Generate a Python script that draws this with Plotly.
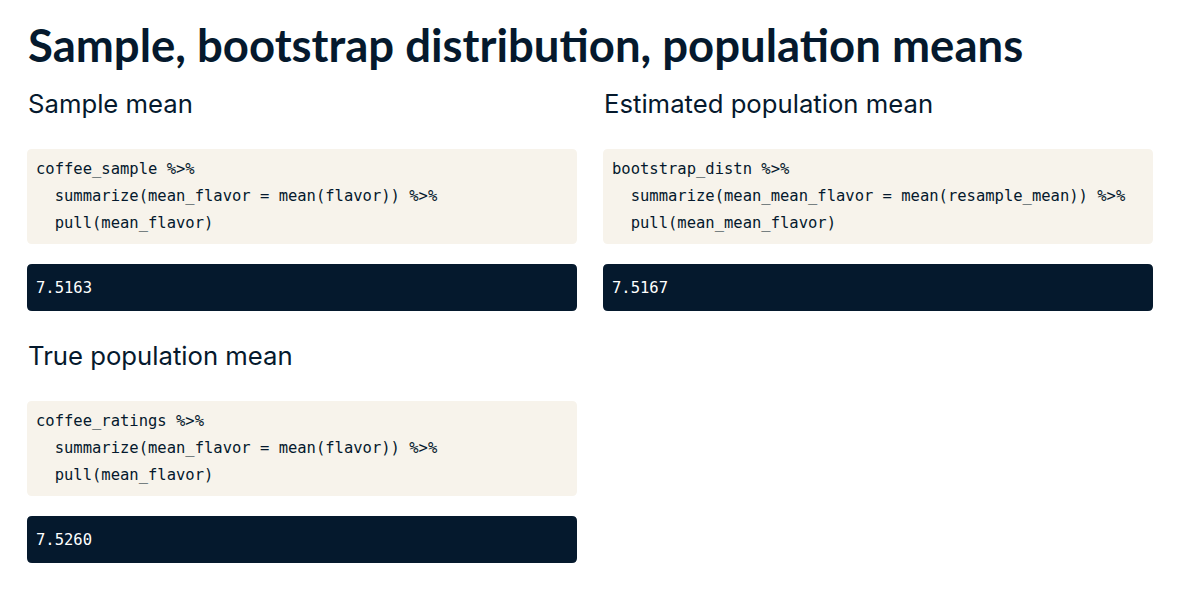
import plotly.graph_objects as go

W, H = 1186, 610
OFF = 8  # page body margin

title = "Sample, bootstrap distribution, population means"
panel_headings = ["Sample mean", "Estimated population mean", "True population mean"]
panel_code = [
    ["coffee_sample %>%",
     "  summarize(mean_flavor = mean(flavor)) %>%",
     "  pull(mean_flavor)"],
    ["bootstrap_distn %>%",
     "  summarize(mean_mean_flavor = mean(resample_mean)) %>%",
     "  pull(mean_mean_flavor)"],
    ["coffee_ratings %>%",
     "  summarize(mean_flavor = mean(flavor)) %>%",
     "  pull(mean_flavor)"],
]
panel_outputs = ["7.5163", "7.5167", "7.5260"]

# layout (pixels)
panel_x = [27, 603, 27]
panel_top = [0, 0, 252]
box_w = 550
NAVY = "#05192D"
CREAM = "#F7F3EB"
SANS = "Inter, Lato, sans-serif"
TITLE_FONT = "Lato, Inter, sans-serif"
MONO = "DejaVu Sans Mono, Liberation Mono, monospace"


def rounded(x0, y0, x1, y1, r=5):
    return (f"M{x0+r},{y0} L{x1-r},{y0} Q{x1},{y0} {x1},{y0+r} "
            f"L{x1},{y1-r} Q{x1},{y1} {x1-r},{y1} L{x0+r},{y1} "
            f"Q{x0},{y1} {x0},{y1-r} L{x0},{y0+r} Q{x0},{y0} {x0+r},{y0} Z")


fig = go.Figure()
fig.add_trace(go.Scatter(x=[0, W], y=[0, H], mode="markers",
                         marker=dict(opacity=0), hoverinfo="skip", showlegend=False))

shapes = []
annotations = []

annotations.append(dict(x=26, y=44, text=f"<b>{title}</b>", showarrow=False,
                        xanchor="left", yanchor="middle",
                        font=dict(family=TITLE_FONT, size=45.5, color=NAVY)))

for i, heading in enumerate(panel_headings):
    x0 = panel_x[i]
    t = panel_top[i]
    annotations.append(dict(x=x0 - 1, y=t + 103, text=heading, showarrow=False,
                            xanchor="left", yanchor="middle",
                            font=dict(family=SANS, size=25.7, color=NAVY)))
    shapes.append(dict(type="path", path=rounded(x0, t + 149, x0 + box_w, t + 244),
                       fillcolor=CREAM, line=dict(width=0), layer="below"))
    for j, line in enumerate(panel_code[i]):
        stripped = line.lstrip(" ")
        indent = len(line) - len(stripped)
        annotations.append(dict(x=x0 + 7, y=t + 168.5 + 27 * j,
                                text="\u00a0" * indent + stripped, showarrow=False,
                                xanchor="left", yanchor="middle",
                                font=dict(family=MONO, size=15.5, color=NAVY)))
    shapes.append(dict(type="path", path=rounded(x0, t + 264, x0 + box_w, t + 311),
                       fillcolor=NAVY, line=dict(width=0), layer="below"))
    annotations.append(dict(x=x0 + 7, y=t + 288, text=panel_outputs[i], showarrow=False,
                            xanchor="left", yanchor="middle",
                            font=dict(family=MONO, size=15.5, color="#FFFFFF")))

fig.update_layout(
    width=W, height=H,
    margin=dict(l=0, r=0, t=0, b=0),
    paper_bgcolor="#FFFFFF", plot_bgcolor="#FFFFFF",
    xaxis=dict(range=[OFF, W + OFF], visible=False, fixedrange=True),
    yaxis=dict(range=[H + OFF, OFF], visible=False, fixedrange=True),
    shapes=shapes, annotations=annotations,
)
fig.write_html("out.html", config={"displayModeBar": False})
